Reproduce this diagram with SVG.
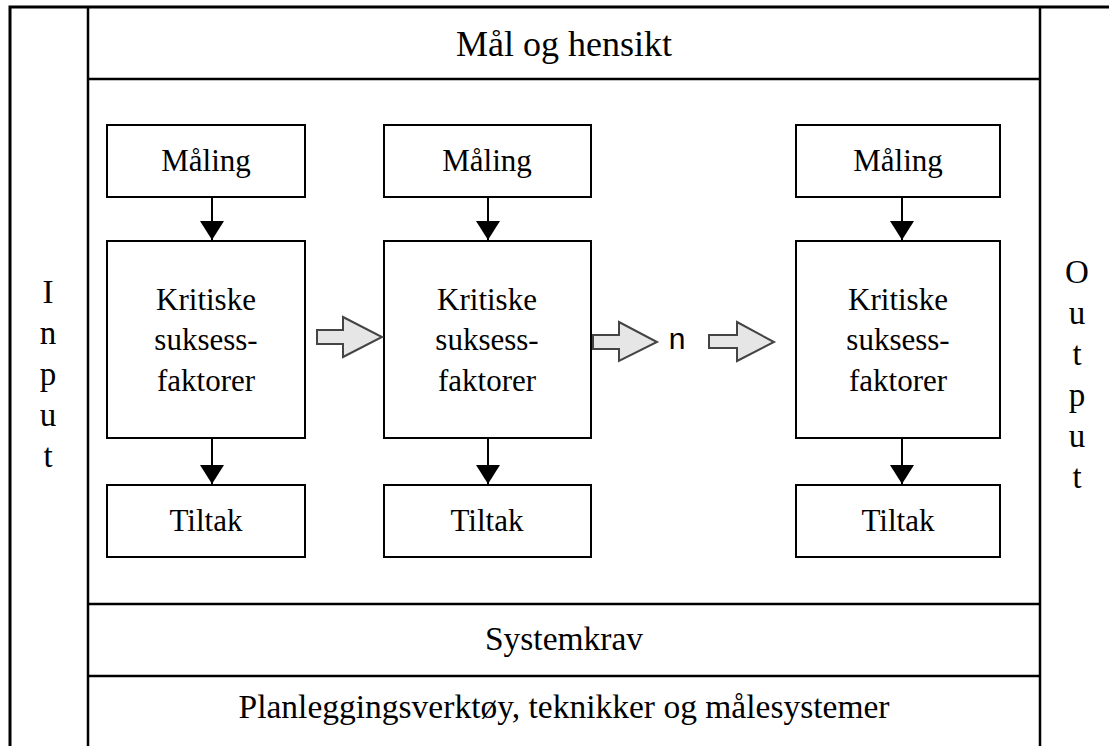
<svg xmlns="http://www.w3.org/2000/svg" width="1109" height="746" viewBox="0 0 1109 746">
  <style>
    .frame { fill: none; stroke: #000; stroke-width: 3; }
    .rule { fill: none; stroke: #000; stroke-width: 2.5; }
    .box { fill: #fff; stroke: #000; stroke-width: 2; }
    .lbl { font-family: "Liberation Serif", "Times New Roman", serif; font-size: 31px; fill: #000; text-anchor: middle; }
    .band { font-family: "Liberation Serif", "Times New Roman", serif; font-size: 33.5px; fill: #000; text-anchor: middle; }
    .title { font-family: "Liberation Serif", "Times New Roman", serif; font-size: 36px; fill: #000; text-anchor: middle; }
    .side { font-family: "Liberation Serif", "Times New Roman", serif; font-size: 33px; fill: #000; text-anchor: middle; }
    .flow { fill: none; stroke: #000; stroke-width: 2; }
    .block { fill: #e6e6e6; stroke: #444; stroke-width: 2; stroke-linejoin: miter; }
    .n { font-family: "Liberation Sans", Arial, sans-serif; font-size: 30px; fill: #000; text-anchor: middle; }
  </style>
  <defs>
    <marker id="head" viewBox="0 0 19 24" refX="19" refY="12" markerWidth="19" markerHeight="24" markerUnits="userSpaceOnUse" orient="auto">
      <path d="M0,0 L19,12 L0,24 Z" fill="#000"/>
    </marker>
    <filter id="soft" x="-50%" y="-5%" width="200%" height="110%">
      <feGaussianBlur stdDeviation="2.5"/>
    </filter>
  </defs>

  <rect width="1109" height="746" fill="#fff"/>

  <!-- outer frame with its soft shadow on the left -->
  <g id="frame">
    <path d="M6,12 L6,760" stroke="#888" stroke-width="6" fill="none" filter="url(#soft)"/>
    <path d="M10,760 L10,7 L1115,7" class="frame"/>
    <path d="M88,7 L88,760" class="rule"/>
    <path d="M1040,7 L1040,760" class="rule"/>
    <path d="M88,79 L1040,79" class="rule"/>
    <path d="M88,604 L1040,604" class="rule"/>
    <path d="M88,676 L1040,676" class="rule"/>
  </g>

  <g id="goal"><text class="title" x="564" y="56">Mål og hensikt</text></g>
  <g id="system"><text class="band" x="564" y="650">Systemkrav</text></g>
  <g id="tools"><text class="band" x="564" y="718">Planleggingsverktøy, teknikker og målesystemer</text></g>

  <g id="input">
    <text class="side" x="48" y="303">I</text>
    <text class="side" x="48" y="344">n</text>
    <text class="side" x="48" y="385">p</text>
    <text class="side" x="48" y="426">u</text>
    <text class="side" x="48" y="467">t</text>
  </g>
  <g id="output">
    <text class="side" x="1077" y="283">O</text>
    <text class="side" x="1077" y="324">u</text>
    <text class="side" x="1077" y="365">t</text>
    <text class="side" x="1077" y="406">p</text>
    <text class="side" x="1077" y="447">u</text>
    <text class="side" x="1077" y="488">t</text>
  </g>

  <!-- column 1 -->
  <g id="maling1"><rect class="box" x="107" y="125" width="198" height="72"/><text class="lbl" x="206" y="171">Måling</text></g>
  <g id="ksf1"><rect class="box" x="107" y="241" width="198" height="197"/>
    <text class="lbl" x="206" y="310">Kritiske</text><text class="lbl" x="206" y="350">suksess-</text><text class="lbl" x="206" y="391">faktorer</text></g>
  <g id="tiltak1"><rect class="box" x="107" y="485" width="198" height="72"/><text class="lbl" x="206" y="531">Tiltak</text></g>

  <!-- column 2 -->
  <g id="maling2"><rect class="box" x="384" y="125" width="207" height="72"/><text class="lbl" x="487" y="171">Måling</text></g>
  <g id="ksf2"><rect class="box" x="384" y="241" width="207" height="197"/>
    <text class="lbl" x="487" y="310">Kritiske</text><text class="lbl" x="487" y="350">suksess-</text><text class="lbl" x="487" y="391">faktorer</text></g>
  <g id="tiltak2"><rect class="box" x="384" y="485" width="207" height="72"/><text class="lbl" x="487" y="531">Tiltak</text></g>

  <!-- column n -->
  <g id="maling3"><rect class="box" x="796" y="125" width="204" height="72"/><text class="lbl" x="898" y="171">Måling</text></g>
  <g id="ksf3"><rect class="box" x="796" y="241" width="204" height="197"/>
    <text class="lbl" x="898" y="310">Kritiske</text><text class="lbl" x="898" y="350">suksess-</text><text class="lbl" x="898" y="391">faktorer</text></g>
  <g id="tiltak3"><rect class="box" x="796" y="485" width="204" height="72"/><text class="lbl" x="898" y="531">Tiltak</text></g>

  <g id="n-label"><text class="n" x="677" y="349">n</text></g>

  <g id="connectors">
    <path class="flow" d="M212,197 L212,240" marker-end="url(#head)"/>
    <path class="flow" d="M212,438 L212,484" marker-end="url(#head)"/>
    <path class="flow" d="M488,197 L488,240" marker-end="url(#head)"/>
    <path class="flow" d="M488,438 L488,484" marker-end="url(#head)"/>
    <path class="flow" d="M902,197 L902,240" marker-end="url(#head)"/>
    <path class="flow" d="M902,438 L902,484" marker-end="url(#head)"/>
    <!-- block arrows between the stages -->
    <path class="block" d="M317,330 L343,330 L343,317 L382,337 L343,357 L343,344 L317,344 Z"/>
    <path class="block" d="M593,335 L619,335 L619,322 L657,342 L619,361 L619,349 L593,349 Z"/>
    <path class="block" d="M709,335 L737,335 L737,322 L774,342 L737,361 L737,348 L709,348 Z"/>
  </g>
</svg>
